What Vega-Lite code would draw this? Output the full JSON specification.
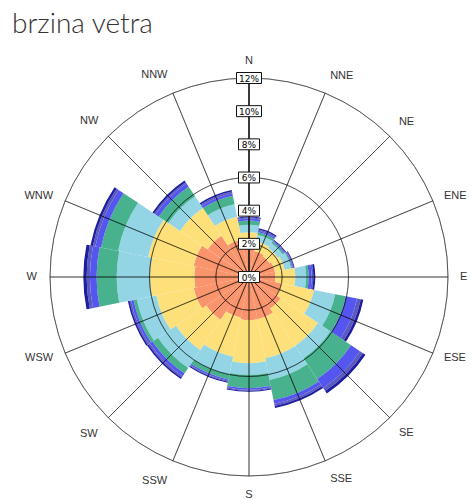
{
  "$schema": "https://vega.github.io/schema/vega-lite/v6.json",
  "width": 450,
  "height": 444,
  "autosize": {"type": "none"},
  "padding": {"left": 24, "top": 55, "right": 0, "bottom": 0},
  "background": "white",
  "title": {"text": "brzina vetra", "anchor": "start", "frame": "group", "dx": -12, "dy": 28, "offset": 22, "baseline": "alphabetic", "fontSize": 28, "font": "Lato", "fontWeight": 300, "color": "#333333"},
  "config": {"view": {"stroke": null}},
  "datasets": {
    "wind": [
      {"d":"N","deg":0,"c":"c1","lo":0,"hi":1.9},{"d":"N","deg":0,"c":"c2","lo":1.9,"hi":2.7},{"d":"N","deg":0,"c":"c3","lo":2.7,"hi":3.15},{"d":"N","deg":0,"c":"c4","lo":3.15,"hi":3.4},{"d":"N","deg":0,"c":"c5","lo":3.4,"hi":3.52},{"d":"N","deg":0,"c":"c6","lo":3.52,"hi":3.58},{"d":"N","deg":0,"c":"c7","lo":3.58,"hi":3.65},
      {"d":"NNE","deg":22.5,"c":"c1","lo":0,"hi":1.6},{"d":"NNE","deg":22.5,"c":"c2","lo":1.6,"hi":2.2},{"d":"NNE","deg":22.5,"c":"c3","lo":2.2,"hi":2.6},{"d":"NNE","deg":22.5,"c":"c4","lo":2.6,"hi":2.75},{"d":"NNE","deg":22.5,"c":"c5","lo":2.75,"hi":2.85},{"d":"NNE","deg":22.5,"c":"c6","lo":2.85,"hi":2.92},{"d":"NNE","deg":22.5,"c":"c7","lo":2.92,"hi":3.0},
      {"d":"NE","deg":45,"c":"c1","lo":0,"hi":1.5},{"d":"NE","deg":45,"c":"c2","lo":1.5,"hi":2.1},{"d":"NE","deg":45,"c":"c3","lo":2.1,"hi":2.45},{"d":"NE","deg":45,"c":"c4","lo":2.45,"hi":2.55},{"d":"NE","deg":45,"c":"c5","lo":2.55,"hi":2.6},{"d":"NE","deg":45,"c":"c6","lo":2.6,"hi":2.65},{"d":"NE","deg":45,"c":"c7","lo":2.65,"hi":2.7},
      {"d":"ENE","deg":67.5,"c":"c1","lo":0,"hi":1.6},{"d":"ENE","deg":67.5,"c":"c2","lo":1.6,"hi":2.2},{"d":"ENE","deg":67.5,"c":"c3","lo":2.2,"hi":2.6},{"d":"ENE","deg":67.5,"c":"c4","lo":2.6,"hi":2.65},{"d":"ENE","deg":67.5,"c":"c5","lo":2.65,"hi":2.7},{"d":"ENE","deg":67.5,"c":"c6","lo":2.7,"hi":2.75},{"d":"ENE","deg":67.5,"c":"c7","lo":2.75,"hi":2.8},
      {"d":"E","deg":90,"c":"c1","lo":0,"hi":1.6},{"d":"E","deg":90,"c":"c2","lo":1.6,"hi":2.8},{"d":"E","deg":90,"c":"c3","lo":2.8,"hi":3.45},{"d":"E","deg":90,"c":"c4","lo":3.45,"hi":3.6},{"d":"E","deg":90,"c":"c5","lo":3.6,"hi":3.78},{"d":"E","deg":90,"c":"c6","lo":3.78,"hi":3.88},{"d":"E","deg":90,"c":"c7","lo":3.88,"hi":4.0},
      {"d":"ESE","deg":112.5,"c":"c1","lo":0,"hi":2.0},{"d":"ESE","deg":112.5,"c":"c2","lo":2.0,"hi":4.0},{"d":"ESE","deg":112.5,"c":"c3","lo":4.0,"hi":5.3},{"d":"ESE","deg":112.5,"c":"c4","lo":5.3,"hi":5.96},{"d":"ESE","deg":112.5,"c":"c5","lo":5.96,"hi":6.64},{"d":"ESE","deg":112.5,"c":"c6","lo":6.64,"hi":6.87},{"d":"ESE","deg":112.5,"c":"c7","lo":6.87,"hi":7.03},
      {"d":"SE","deg":135,"c":"c1","lo":0,"hi":2.3},{"d":"SE","deg":135,"c":"c2","lo":2.3,"hi":5.0},{"d":"SE","deg":135,"c":"c3","lo":5.0,"hi":5.9},{"d":"SE","deg":135,"c":"c4","lo":5.9,"hi":7.4},{"d":"SE","deg":135,"c":"c5","lo":7.4,"hi":8.05},{"d":"SE","deg":135,"c":"c6","lo":8.05,"hi":8.27},{"d":"SE","deg":135,"c":"c7","lo":8.27,"hi":8.45},
      {"d":"SSE","deg":157.5,"c":"c1","lo":0,"hi":2.6},{"d":"SSE","deg":157.5,"c":"c2","lo":2.6,"hi":5.0},{"d":"SSE","deg":157.5,"c":"c3","lo":5.0,"hi":6.33},{"d":"SSE","deg":157.5,"c":"c4","lo":6.33,"hi":7.57},{"d":"SSE","deg":157.5,"c":"c5","lo":7.57,"hi":7.8},{"d":"SSE","deg":157.5,"c":"c6","lo":7.8,"hi":7.93},{"d":"SSE","deg":157.5,"c":"c7","lo":7.93,"hi":8.05},
      {"d":"S","deg":180,"c":"c1","lo":0,"hi":2.6},{"d":"S","deg":180,"c":"c2","lo":2.6,"hi":5.2},{"d":"S","deg":180,"c":"c3","lo":5.2,"hi":5.9},{"d":"S","deg":180,"c":"c4","lo":5.9,"hi":6.7},{"d":"S","deg":180,"c":"c5","lo":6.7,"hi":6.8},{"d":"S","deg":180,"c":"c6","lo":6.8,"hi":6.86},{"d":"S","deg":180,"c":"c7","lo":6.86,"hi":6.92},
      {"d":"SSW","deg":202.5,"c":"c1","lo":0,"hi":2.5},{"d":"SSW","deg":202.5,"c":"c2","lo":2.5,"hi":4.9},{"d":"SSW","deg":202.5,"c":"c3","lo":4.9,"hi":6.0},{"d":"SSW","deg":202.5,"c":"c4","lo":6.0,"hi":6.3},{"d":"SSW","deg":202.5,"c":"c5","lo":6.3,"hi":6.38},{"d":"SSW","deg":202.5,"c":"c6","lo":6.38,"hi":6.44},{"d":"SSW","deg":202.5,"c":"c7","lo":6.44,"hi":6.5},
      {"d":"SW","deg":225,"c":"c1","lo":0,"hi":3.1},{"d":"SW","deg":225,"c":"c2","lo":3.1,"hi":5.3},{"d":"SW","deg":225,"c":"c3","lo":5.3,"hi":6.6},{"d":"SW","deg":225,"c":"c4","lo":6.6,"hi":7.0},{"d":"SW","deg":225,"c":"c5","lo":7.0,"hi":7.2},{"d":"SW","deg":225,"c":"c6","lo":7.2,"hi":7.3},{"d":"SW","deg":225,"c":"c7","lo":7.3,"hi":7.4},
      {"d":"WSW","deg":247.5,"c":"c1","lo":0,"hi":3.4},{"d":"WSW","deg":247.5,"c":"c2","lo":3.4,"hi":5.7},{"d":"WSW","deg":247.5,"c":"c3","lo":5.7,"hi":6.9},{"d":"WSW","deg":247.5,"c":"c4","lo":6.9,"hi":7.1},{"d":"WSW","deg":247.5,"c":"c5","lo":7.1,"hi":7.25},{"d":"WSW","deg":247.5,"c":"c6","lo":7.25,"hi":7.35},{"d":"WSW","deg":247.5,"c":"c7","lo":7.35,"hi":7.45},
      {"d":"W","deg":270,"c":"c1","lo":0,"hi":3.3},{"d":"W","deg":270,"c":"c2","lo":3.3,"hi":5.97},{"d":"W","deg":270,"c":"c3","lo":5.97,"hi":7.98},{"d":"W","deg":270,"c":"c4","lo":7.98,"hi":9.19},{"d":"W","deg":270,"c":"c5","lo":9.19,"hi":9.59},{"d":"W","deg":270,"c":"c6","lo":9.59,"hi":9.79},{"d":"W","deg":270,"c":"c7","lo":9.79,"hi":9.99},
      {"d":"WNW","deg":292.5,"c":"c1","lo":0,"hi":3.4},{"d":"WNW","deg":292.5,"c":"c2","lo":3.4,"hi":6.2},{"d":"WNW","deg":292.5,"c":"c3","lo":6.2,"hi":8.05},{"d":"WNW","deg":292.5,"c":"c4","lo":8.05,"hi":9.1},{"d":"WNW","deg":292.5,"c":"c5","lo":9.1,"hi":9.45},{"d":"WNW","deg":292.5,"c":"c6","lo":9.45,"hi":9.6},{"d":"WNW","deg":292.5,"c":"c7","lo":9.6,"hi":9.75},
      {"d":"NW","deg":315,"c":"c1","lo":0,"hi":3.0},{"d":"NW","deg":315,"c":"c2","lo":3.0,"hi":5.0},{"d":"NW","deg":315,"c":"c3","lo":5.0,"hi":5.85},{"d":"NW","deg":315,"c":"c4","lo":5.85,"hi":6.55},{"d":"NW","deg":315,"c":"c5","lo":6.55,"hi":6.78},{"d":"NW","deg":315,"c":"c6","lo":6.78,"hi":6.88},{"d":"NW","deg":315,"c":"c7","lo":6.88,"hi":7.0},
      {"d":"NNW","deg":337.5,"c":"c1","lo":0,"hi":2.3},{"d":"NNW","deg":337.5,"c":"c2","lo":2.3,"hi":3.7},{"d":"NNW","deg":337.5,"c":"c3","lo":3.7,"hi":4.47},{"d":"NNW","deg":337.5,"c":"c4","lo":4.47,"hi":5.0},{"d":"NNW","deg":337.5,"c":"c5","lo":5.0,"hi":5.15},{"d":"NNW","deg":337.5,"c":"c6","lo":5.15,"hi":5.25},{"d":"NNW","deg":337.5,"c":"c7","lo":5.25,"hi":5.35}
    ],
    "dirs": [
      {"d":"N","deg":0},{"d":"NNE","deg":22.5},{"d":"NE","deg":45},{"d":"ENE","deg":67.5},
      {"d":"E","deg":90},{"d":"ESE","deg":112.5},{"d":"SE","deg":135},{"d":"SSE","deg":157.5},
      {"d":"S","deg":180},{"d":"SSW","deg":202.5},{"d":"SW","deg":225},{"d":"WSW","deg":247.5},
      {"d":"W","deg":270},{"d":"WNW","deg":292.5},{"d":"NW","deg":315},{"d":"NNW","deg":337.5}
    ],
    "rings": [
      {"v":0,"t":"0%"},{"v":2,"t":"2%"},{"v":4,"t":"4%"},{"v":6,"t":"6%"},{"v":8,"t":"8%"},{"v":10,"t":"10%"},{"v":12,"t":"12%"}
    ]
  },
  "layer": [
    {
      "data": {"name": "wind"},
      "transform": [
        {"calculate": "datum.deg - 11.25", "as": "a0"},
        {"calculate": "datum.deg + 11.25", "as": "a1"}
      ],
      "mark": {"type": "arc", "clip": true},
      "encoding": {
        "theta": {"field": "a0", "type": "quantitative", "scale": {"type": "linear", "domain": [0, 360], "range": [0, 6.283185307179586], "zero": false}},
        "theta2": {"field": "a1"},
        "radius": {"field": "hi", "type": "quantitative", "scale": {"type": "linear", "domain": [0, 12], "range": [0, 199], "zero": true}},
        "radius2": {"field": "lo"},
        "color": {"field": "c", "type": "nominal", "legend": null, "scale": {"domain": ["c1","c2","c3","c4","c5","c6","c7"], "range": ["#F9946C","#FDE07A","#93D5E5","#47B28D","#5555F0","#5A5AC0","#1E1EA0"]}}
      }
    },
    {
      "data": {"name": "rings"},
      "transform": [{"filter": "datum.v > 0"}],
      "mark": {"type": "arc", "clip": true, "filled": false, "stroke": "#000000", "strokeOpacity": 0.42, "strokeWidth": 1},
      "encoding": {
        "theta": {"datum": 0, "type": "quantitative"},
        "theta2": {"datum": 360},
        "radius": {"field": "v", "type": "quantitative"}
      }
    },
    {
      "data": {"name": "dirs"},
      "mark": {"type": "arc", "clip": true, "filled": false, "stroke": "#000000", "strokeOpacity": 0.45, "strokeWidth": 1},
      "encoding": {
        "theta": {"field": "deg", "type": "quantitative"},
        "theta2": {"field": "deg"},
        "radius": {"datum": 12, "type": "quantitative"},
        "radius2": {"datum": 0}
      }
    },
    {
      "data": {"name": "dirs"},
      "transform": [{"filter": "datum.deg == 0"}],
      "mark": {"type": "arc", "clip": true, "filled": false, "stroke": "#1a1a1a", "strokeWidth": 1.5},
      "encoding": {
        "theta": {"field": "deg", "type": "quantitative"},
        "theta2": {"field": "deg"},
        "radius": {"datum": 12, "type": "quantitative"},
        "radius2": {"datum": 0}
      }
    },
    {
      "data": {"name": "rings"},
      "transform": [{"filter": "datum.v < 10"}],
      "mark": {"type": "point", "shape": "M-1,-0.52L1,-0.52L1,0.52L-1,0.52Z", "size": 441, "filled": true, "fill": "#ffffff", "stroke": "#111111", "strokeWidth": 1, "opacity": 1},
      "encoding": {
        "x": {"datum": 0, "type": "quantitative", "scale": {"domain": [-1, 1]}, "axis": null},
        "y": {"field": "v", "type": "quantitative", "scale": {"domain": [-13.387, 13.387], "zero": false, "nice": false}, "axis": null}
      }
    },
    {
      "data": {"name": "rings"},
      "transform": [{"filter": "datum.v >= 10"}],
      "mark": {"type": "point", "shape": "M-1,-0.44L1,-0.44L1,0.44L-1,0.44Z", "size": 625, "filled": true, "fill": "#ffffff", "stroke": "#111111", "strokeWidth": 1, "opacity": 1},
      "encoding": {
        "x": {"datum": 0, "type": "quantitative"},
        "y": {"field": "v", "type": "quantitative"}
      }
    },
    {
      "data": {"name": "rings"},
      "mark": {"type": "text", "font": "DejaVu Sans", "fontSize": 9, "color": "#000000", "align": "center", "baseline": "middle", "dy": 0.5},
      "encoding": {
        "x": {"datum": 0, "type": "quantitative"},
        "y": {"field": "v", "type": "quantitative"},
        "text": {"field": "t"}
      }
    },
    {
      "data": {"name": "dirs"},
      "transform": [{"filter": "datum.deg == 0"}],
      "mark": {"type": "text", "font": "Liberation Sans", "fontSize": 11, "color": "#333333", "align": "center", "baseline": "bottom", "radiusOffset": 12},
      "encoding": {
        "theta": {"field": "deg", "type": "quantitative"},
        "radius": {"datum": 12, "type": "quantitative"},
        "text": {"field": "d"}
      }
    },
    {
      "data": {"name": "dirs"},
      "transform": [{"filter": "datum.deg == 180"}],
      "mark": {"type": "text", "font": "Liberation Sans", "fontSize": 11, "color": "#333333", "align": "center", "baseline": "top", "radiusOffset": 13},
      "encoding": {
        "theta": {"field": "deg", "type": "quantitative"},
        "radius": {"datum": 12, "type": "quantitative"},
        "text": {"field": "d"}
      }
    },
    {
      "data": {"name": "dirs"},
      "transform": [{"filter": "datum.deg == 22.5 || datum.deg == 45"}],
      "mark": {"type": "text", "font": "Liberation Sans", "fontSize": 11, "color": "#333333", "align": "left", "baseline": "bottom", "radiusOffset": 13},
      "encoding": {
        "theta": {"field": "deg", "type": "quantitative"},
        "radius": {"datum": 12, "type": "quantitative"},
        "text": {"field": "d"}
      }
    },
    {
      "data": {"name": "dirs"},
      "transform": [{"filter": "datum.deg >= 67.5 && datum.deg <= 112.5"}],
      "mark": {"type": "text", "font": "Liberation Sans", "fontSize": 11, "color": "#333333", "align": "left", "baseline": "middle", "radiusOffset": 12},
      "encoding": {
        "theta": {"field": "deg", "type": "quantitative"},
        "radius": {"datum": 12, "type": "quantitative"},
        "text": {"field": "d"}
      }
    },
    {
      "data": {"name": "dirs"},
      "transform": [{"filter": "datum.deg == 135 || datum.deg == 157.5"}],
      "mark": {"type": "text", "font": "Liberation Sans", "fontSize": 11, "color": "#333333", "align": "left", "baseline": "top", "radiusOffset": 13},
      "encoding": {
        "theta": {"field": "deg", "type": "quantitative"},
        "radius": {"datum": 12, "type": "quantitative"},
        "text": {"field": "d"}
      }
    },
    {
      "data": {"name": "dirs"},
      "transform": [{"filter": "datum.deg == 202.5 || datum.deg == 225"}],
      "mark": {"type": "text", "font": "Liberation Sans", "fontSize": 11, "color": "#333333", "align": "right", "baseline": "top", "radiusOffset": 15},
      "encoding": {
        "theta": {"field": "deg", "type": "quantitative"},
        "radius": {"datum": 12, "type": "quantitative"},
        "text": {"field": "d"}
      }
    },
    {
      "data": {"name": "dirs"},
      "transform": [{"filter": "datum.deg >= 247.5 && datum.deg <= 292.5"}],
      "mark": {"type": "text", "font": "Liberation Sans", "fontSize": 11, "color": "#333333", "align": "right", "baseline": "middle", "radiusOffset": 13},
      "encoding": {
        "theta": {"field": "deg", "type": "quantitative"},
        "radius": {"datum": 12, "type": "quantitative"},
        "text": {"field": "d"}
      }
    },
    {
      "data": {"name": "dirs"},
      "transform": [{"filter": "datum.deg == 315 || datum.deg == 337.5"}],
      "mark": {"type": "text", "font": "Liberation Sans", "fontSize": 11, "color": "#333333", "align": "right", "baseline": "bottom", "radiusOffset": 14},
      "encoding": {
        "theta": {"field": "deg", "type": "quantitative"},
        "radius": {"datum": 12, "type": "quantitative"},
        "text": {"field": "d"}
      }
    }
  ]
}
